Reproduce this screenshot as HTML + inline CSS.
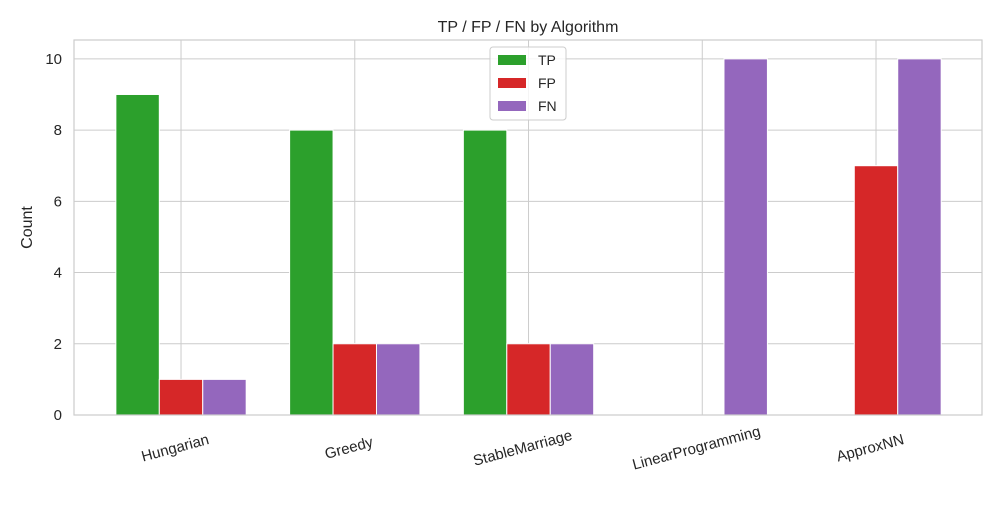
<!DOCTYPE html>
<html><head><meta charset="utf-8"><style>
body{margin:0;background:#fff;font-family:"Liberation Sans","DejaVu Sans",sans-serif}
</style></head><body>
<svg id="c" width="1000" height="500" viewBox="0 0 1000 500" xmlns="http://www.w3.org/2000/svg"></svg>
<script>
const categories=["Hungarian","Greedy","StableMarriage","LinearProgramming","ApproxNN"];
const tpValues=[9,8,8,0,0];
const fpValues=[1,2,2,0,7];
const fnValues=[1,2,2,10,10];
const yTicks=[0,2,4,6,8,10];
const seriesNames=["TP","FP","FN"];
const colors=["#2ca02c","#d62728","#9467bd"];
const svg=document.getElementById('c');
const NS="http://www.w3.org/2000/svg";
const L=74,R=982,T=40,B=415;
const xmin=-0.616,xmax=4.61,ymax=10.53;
const x=v=>L+(v-xmin)/(xmax-xmin)*(R-L);
const y=v=>B-v/ymax*(B-T);
function el(t,a,p){const e=document.createElementNS(NS,t);for(const k in a)e.setAttribute(k,a[k]);(p||svg).appendChild(e);return e;}
el('rect',{x:L,y:T,width:R-L,height:B-T,fill:'#fff'});
const grid=el('g',{});


yTicks.forEach(t=>{
 el('line',{x1:L,x2:R,y1:y(t),y2:y(t),stroke:'#cccccc','stroke-width':1},grid);
 const tx=el('text',{x:L-12,y:y(t)+5,'text-anchor':'end','font-size':15,fill:'#262626'});
 tx.textContent=t;
 
 
});
categories.forEach((c,i)=>{
 el('line',{x1:x(i),x2:x(i),y1:T,y2:B,stroke:'#cccccc','stroke-width':1},grid);
});
const series=[tpValues,fpValues,fnValues];
const bw=0.25;
series.forEach((vals,s)=>{
 vals.forEach((v,i)=>{
  const cx=i+(s-1)*bw;
  const r=el('rect',{x:x(cx-bw/2),y:y(v),width:x(bw)-x(0),height:y(0)-y(v),fill:colors[s],stroke:'#fff','stroke-width':1});
  
  
 });
});
el('rect',{x:L,y:T,width:R-L,height:B-T,fill:'none',stroke:'#cccccc','stroke-width':1.2});
categories.forEach((c,i)=>{
 const tx=el('text',{x:x(i),y:B+24,'text-anchor':'middle','font-size':15,fill:'#262626',transform:`rotate(-15 ${x(i)} ${B+24}) translate(-8 12)`});
 tx.textContent=c;
 
 
});
const yl=el('text',{x:32,y:(T+B)/2,'text-anchor':'middle','font-size':16,fill:'#262626',transform:`rotate(-90 32 ${(T+B)/2})`});
yl.textContent='Count';


const ti=el('text',{x:(L+R)/2,y:32,'text-anchor':'middle','font-size':16,fill:'#262626'});
ti.textContent='TP / FP / FN by Algorithm';


const lg=el('g',{});


el('rect',{x:490,y:47,width:76,height:73,rx:3,fill:'#fff',stroke:'#cccccc','fill-opacity':0.8},lg);
seriesNames.forEach((n,s)=>{
 const g=el('g',{},lg);
 
 
 el('rect',{x:498,y:55+s*23,width:28,height:10,fill:colors[s]},g);
 const t=el('text',{x:538,y:65+s*23,'font-size':14,fill:'#262626'},g);
 t.textContent=n;
});
</script>
</body></html>
